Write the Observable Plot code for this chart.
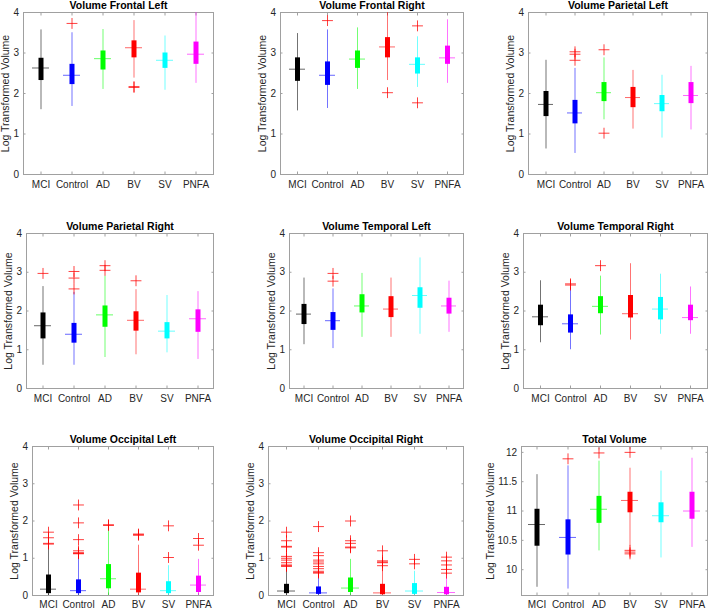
<!DOCTYPE html>
<html><head><meta charset="utf-8">
<script src="https://cdn.jsdelivr.net/npm/d3@7"></script>
<script src="https://cdn.jsdelivr.net/npm/@observablehq/plot@0.6"></script>
<style>
body{margin:0;background:#fff;}
#fig{position:relative;width:709px;height:611px;overflow:hidden;font-family:"Liberation Sans",Arial,Helvetica,sans-serif;}
#fig svg{position:absolute;overflow:visible;}
</style></head><body><div id="fig"></div>
<script>
const groups = ["MCI","Control","AD","BV","SV","PNFA"];
const colors = ["#000000","#0000ff","#00ff00","#ff0000","#00ffff","#ff00ff"];
const yLabel = "Log Transformed Volume";
const regionTicks = [0,1,2,3,4];
const totalTicks = [10,10.5,11,11.5,12];

// Volume Frontal Left
const FL_lo  = [1.60,1.68,2.10,2.38,2.08,2.25];
const FL_q1  = [2.32,2.22,2.58,2.88,2.62,2.72];
const FL_med = [2.63,2.45,2.86,3.13,2.82,2.97];
const FL_q3  = [2.87,2.72,3.05,3.30,3.00,3.27];
const FL_hi  = [3.57,3.50,3.58,3.80,3.42,4.00];
const FL_out = [[],[3.73],[],[2.17,2.15],[],[]];
// Volume Frontal Right
const FR_lo  = [1.57,1.63,2.10,2.32,2.15,2.25];
const FR_q1  = [2.30,2.20,2.62,2.88,2.48,2.72];
const FR_med = [2.60,2.45,2.85,3.15,2.72,2.88];
const FR_q3  = [2.88,2.78,3.05,3.38,2.88,3.17];
const FR_hi  = [3.48,3.57,3.62,4.00,3.40,3.82];
const FR_out = [[],[3.80],[],[2.02],[3.67,1.77],[]];
// Volume Parietal Left
const PL_lo  = [0.63,0.52,1.35,1.12,0.90,1.10];
const PL_q1  = [1.43,1.25,1.80,1.65,1.55,1.75];
const PL_med = [1.73,1.52,2.02,1.90,1.75,1.95];
const PL_q3  = [2.05,1.83,2.27,2.15,1.95,2.27];
const PL_hi  = [2.82,2.62,2.88,2.57,2.45,2.67];
const PL_out = [[],[2.82,2.97,3.03],[3.08,1.02],[],[],[]];
// Volume Parietal Right
const PR_lo  = [0.60,0.60,0.80,0.87,0.92,0.75];
const PR_q1  = [1.28,1.17,1.58,1.48,1.28,1.45];
const PR_med = [1.62,1.40,1.90,1.76,1.48,1.80];
const PR_q3  = [1.95,1.68,2.13,1.98,1.70,2.03];
const PR_hi  = [2.63,2.48,2.90,2.55,2.40,2.50];
const PR_out = [[2.97],[3.02,2.85,2.57],[3.17,3.05],[2.78],[],[]];
// Volume Temporal Left
const TL_lo  = [1.13,1.03,1.32,1.32,1.40,1.45];
const TL_q1  = [1.65,1.50,1.95,1.83,2.07,1.92];
const TL_med = [1.92,1.75,2.13,2.05,2.40,2.13];
const TL_q3  = [2.17,1.96,2.42,2.37,2.60,2.33];
const TL_hi  = [2.85,2.57,2.97,2.85,3.37,2.77];
const TL_out = [[],[2.97,2.77],[],[],[],[]];
// Volume Temporal Right
const TR_lo  = [1.18,1.00,1.38,1.25,1.40,1.40];
const TR_q1  = [1.62,1.43,1.93,1.82,1.77,1.75];
const TR_med = [1.85,1.67,2.12,1.93,2.05,1.83];
const TR_q3  = [2.15,1.90,2.37,2.40,2.35,2.15];
const TR_hi  = [2.78,2.60,2.90,3.22,2.95,2.62];
const TR_out = [[],[2.70,2.67],[3.17],[],[],[]];
// Volume Occipital Left
const OL_lo  = [0.00,0.00,0.00,0.00,0.00,0.00];
const OL_q1  = [0.05,0.05,0.18,0.07,0.05,0.08];
const OL_med = [0.17,0.13,0.45,0.17,0.13,0.28];
const OL_q3  = [0.55,0.42,0.83,0.60,0.37,0.52];
const OL_hi  = [1.32,1.10,1.85,1.35,0.80,0.97];
const OL_out = [[1.70,1.55,1.40,1.38],[2.43,1.95,1.50,1.20,1.15,1.13,1.12],[1.90,1.88],[1.65,1.63,1.62],[1.87,1.02],[1.53,1.35]];
// Volume Occipital Right
const OR_lo  = [0.00,0.00,0.00,0.00,0.00,0.00];
const OR_q1  = [0.05,0.03,0.08,0.02,0.03,0.02];
const OR_med = [0.12,0.07,0.20,0.07,0.12,0.08];
const OR_q3  = [0.30,0.23,0.47,0.30,0.32,0.22];
const OR_hi  = [0.72,0.58,0.97,0.75,0.65,0.55];
const OR_out = [[1.70,1.47,1.32,1.30,1.05,1.00,0.95,0.88,0.82,0.80,0.78],[1.85,1.15,1.07,0.95,0.90,0.85,0.78,0.72,0.65,0.62,0.60],[2.00,1.47,1.40,1.30,1.28],[1.20,0.93,0.90,0.88,0.80],[0.97,0.85],[1.03,0.93,0.82,0.70,0.60]];
// Total Volume
const TV_lo  = [9.70,9.67,10.32,10.40,10.20,10.38];
const TV_q1  = [10.40,10.25,10.79,10.97,10.80,10.86];
const TV_med = [10.77,10.55,11.03,11.18,10.92,11.00];
const TV_q3  = [11.03,10.85,11.25,11.32,11.14,11.32];
const TV_hi  = [11.62,11.77,11.85,11.73,11.68,11.90];
const TV_out = [[],[11.89],[11.99],[12.00,10.33,10.30,10.27],[],[]];

const panels = [
  {title:"Volume Frontal Left",   lo:FL_lo,q1:FL_q1,med:FL_med,q3:FL_q3,hi:FL_hi,out:FL_out, L:23, T:12, R:213,B:174},
  {title:"Volume Frontal Right",  lo:FR_lo,q1:FR_q1,med:FR_med,q3:FR_q3,hi:FR_hi,out:FR_out, L:280,T:12, R:463,B:174},
  {title:"Volume Parietal Left",  lo:PL_lo,q1:PL_q1,med:PL_med,q3:PL_q3,hi:PL_hi,out:PL_out, L:528,T:12, R:707,B:174},
  {title:"Volume Parietal Right", lo:PR_lo,q1:PR_q1,med:PR_med,q3:PR_q3,hi:PR_hi,out:PR_out, L:26, T:233,R:213,B:388},
  {title:"Volume Temporal Left",  lo:TL_lo,q1:TL_q1,med:TL_med,q3:TL_q3,hi:TL_hi,out:TL_out, L:289,T:233,R:463,B:388},
  {title:"Volume Temporal Right", lo:TR_lo,q1:TR_q1,med:TR_med,q3:TR_q3,hi:TR_hi,out:TR_out, L:523,T:233,R:707,B:388},
  {title:"Volume Occipital Left", lo:OL_lo,q1:OL_q1,med:OL_med,q3:OL_q3,hi:OL_hi,out:OL_out, L:32, T:446,R:213,B:595, last:true},
  {title:"Volume Occipital Right",lo:OR_lo,q1:OR_q1,med:OR_med,q3:OR_q3,hi:OR_hi,out:OR_out, L:268,T:446,R:463,B:595, last:true},
  {title:"Total Volume",          lo:TV_lo,q1:TV_q1,med:TV_med,q3:TV_q3,hi:TV_hi,out:TV_out, L:521,T:446,R:707,B:595, last:true, total:true}
];

const fig = document.getElementById("fig");
const mL = 45, mR = 6, mT = 20, mB = 24;
const frameGray = "#a0a0a0", textColor = "#262626";

for (const p of panels) {
  const rows = groups.map((g,i)=>({group:g,color:colors[i],lo:p.lo[i],q1:p.q1[i],med:p.med[i],q3:p.q3[i],hi:p.hi[i]}));
  const outs = groups.flatMap((g,i)=>p.out[i].map(v=>({group:g,v})));
  const ticks = p.total ? totalTicks : regionTicks;
  const domain = p.total ? [9.56, 12.1] : [0, 4];
  const svg = Plot.plot({
    width: (p.R-p.L)+mL+mR, height: (p.B-p.T)+mT+mB,
    marginLeft: mL, marginRight: mR, marginTop: mT, marginBottom: mB,
    style: {fontFamily:'"Liberation Sans",Arial,Helvetica,sans-serif', fontSize:"10px", color:textColor, background:"transparent", overflow:"visible"},
    x: {type:"band", domain: groups, padding: 0, axis: null},
    y: {domain, axis: null},
    color: {type:"identity"},
    marks: [
      Plot.frame({stroke: frameGray}),
      Plot.axisY({anchor:"left", ticks, tickSize:-2.5, tickPadding:7, tickFormat:d=>String(d), stroke:frameGray, fill:textColor, label:null}),
      Plot.axisY({anchor:"right", ticks, tickSize:-2.5, tickFormat:()=>"", stroke:frameGray, label:null}),
      Plot.axisX({anchor:"bottom", tickSize:-2.5, tickPadding: p.last ? 7.5 : 9, stroke:frameGray, fill:textColor, label:null}),
      Plot.axisX({anchor:"top", tickSize:-2.5, tickFormat:()=>"", stroke:frameGray, label:null}),
      Plot.ruleX(rows, {x:"group", y1:"lo", y2:"hi", stroke:"color", strokeOpacity:0.55, strokeWidth:1}),
      Plot.ruleX(rows, {x:"group", y1:"q1", y2:"q3", stroke:"color", strokeWidth:5}),
      Plot.tickY(rows, {x:"group", y:"med", stroke:"color", strokeOpacity:0.6, strokeWidth:1, insetLeft:7, insetRight:7}),
      Plot.dot(outs, {x:"group", y:"v", symbol:"plus", stroke:"#ff0000", strokeOpacity:0.75, strokeWidth:1, r:3.6}),
      Plot.text([p.title], {frameAnchor:"top", dy:-4, lineAnchor:"bottom", fontWeight:"bold", fontSize:10.5, fill:"#000"}),
      Plot.text([yLabel], {frameAnchor:"left", textAnchor:"middle", rotate:-90, dx: p.total ? -31 : -18, fontSize:10.5, fill:textColor})
    ]
  });
  svg.style.left = (p.L - mL) + "px";
  svg.style.top = (p.T - mT) + "px";
  fig.appendChild(svg);
}
</script></body></html>
